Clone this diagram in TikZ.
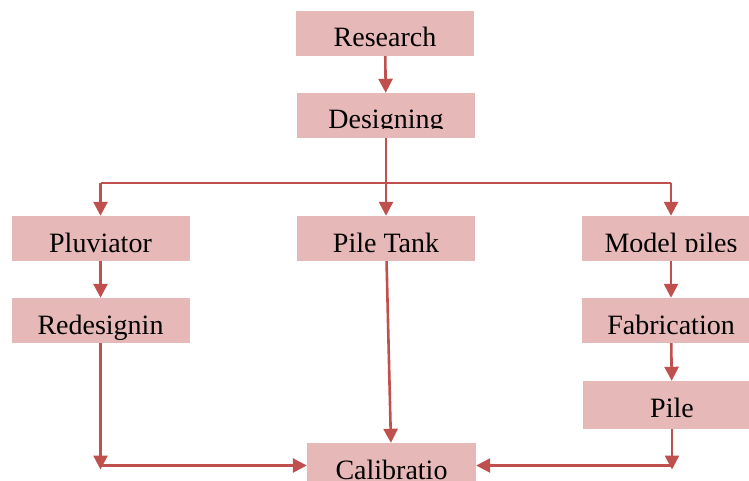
\documentclass[tikz,border=0pt]{standalone}
\usepackage{fontspec}
\setmainfont{Liberation Serif}
\usetikzlibrary{arrows.meta}
\definecolor{boxred}{RGB}{230,184,183}
\definecolor{linered}{RGB}{192,80,77}

\begin{document}
\begin{tikzpicture}[x=1pt,y=-1pt,
  box/.style={fill=boxred,inner sep=0pt,minimum width=178pt,minimum height=45pt,
    text height=36pt,text depth=9pt,font=\fontsize{28}{30}\selectfont},
  link/.style={linered,line width=2.6pt},
  arr/.style={link,-{Triangle[length=14pt,width=14pt]}}]

\useasboundingbox (0,0) rectangle (749,481);

\node[box] (res) at (385,33.5) {Research};
\node[box] (des) at (386,115.5) {Designing};
\node[box] (plu) at (100.5,238.5) {Pluviator};
\node[box] (tank) at (386,238.5) {Pile Tank};
\node[box] (mod) at (671,238.5) {Model piles};
\node[box] (red) at (100.5,320.5) {Redesignin};
\node[box] (fab) at (671,320.5) {Fabrication};
\node[box,minimum height=48pt,text depth=12pt] (pile) at (672,405) {Pile};
\node[box,minimum width=169pt] (cal) at (391.5,465.5) {Calibratio};

% text cut off at the bottom of the box
\fill[boxred] ([yshift=9.5pt]des.south west) rectangle (des.south east);
\fill[boxred] ([yshift=9.5pt]mod.south west) rectangle (mod.south east);

\coordinate (split) at (386,183);
\coordinate (bl) at (plu.north |- split);
\coordinate (br) at (mod.north |- split);
\coordinate (cl) at (red.south |- cal.west);
\coordinate (cr) at (pile.south |- cal.east);

\draw[arr] (res) -- (des);
\draw[link] (des) -- (split);
\draw[link] (bl) -- (br);
\draw[arr] (split) -- (tank);
\draw[arr] (bl) -- (plu);
\draw[arr] (br) -- (mod);
\draw[arr] (plu) -- (red);
\draw[arr] (mod) -- (fab);
\draw[arr] (fab) -- (pile);
\draw[arr] (tank) -- (cal);
\draw[arr] (red) -- ([yshift=-4pt]cl);
\draw[arr] (cl) -- (cal);
\draw[arr] (pile) -- ([yshift=-4pt]cr);
\draw[arr] (cr) -- (cal);

\end{tikzpicture}
\end{document}
